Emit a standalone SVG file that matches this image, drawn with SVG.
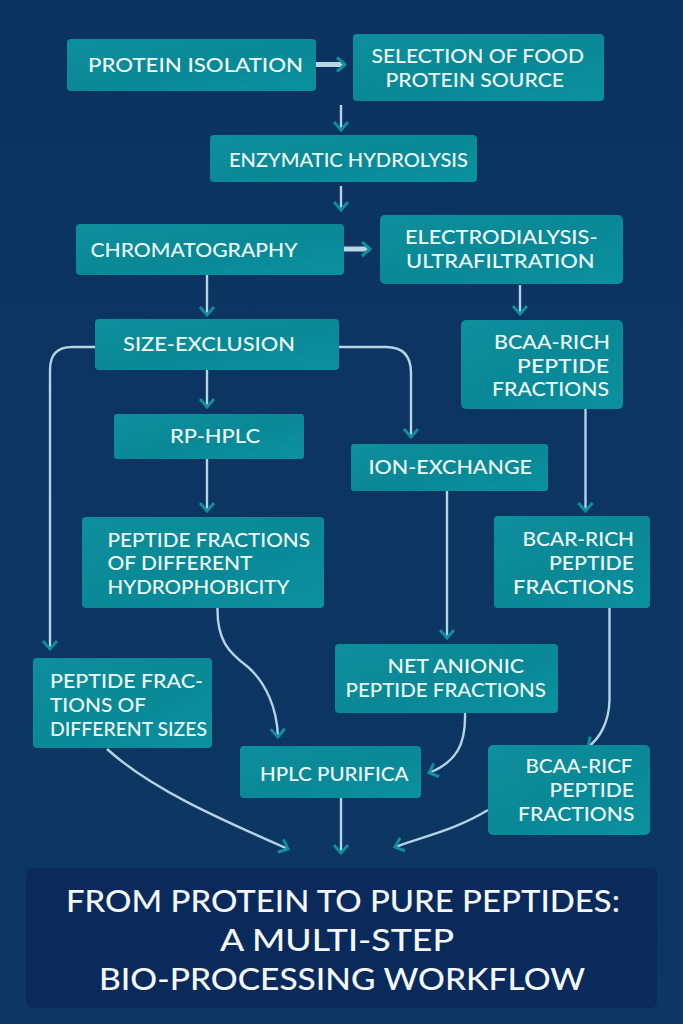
<svg xmlns="http://www.w3.org/2000/svg" width="683" height="1024" viewBox="0 0 683 1024">
<style>
text{font-family:"Lato","Open Sans","Liberation Sans",sans-serif;fill:#eefafa;font-size:19.500px;font-weight:500}
.t{font-size:31px;fill:#f4f8fb}
.c{fill:none;stroke:#b4d3e4;stroke-width:2.400;marker-end:url(#a)}
.k{stroke-width:5;stroke:#b9d6e6}
.n{fill:url(#g)}
</style>
<defs>
<linearGradient id="bg" x1="0" y1="0" x2="0" y2="1"><stop offset="0" stop-color="#0b3360"/><stop offset="1" stop-color="#0d3763"/></linearGradient>
<linearGradient id="g" x1="0" y1="0" x2="1" y2="1"><stop offset="0" stop-color="#0e8f9c"/><stop offset=".5" stop-color="#0a8896"/><stop offset="1" stop-color="#0a919f"/></linearGradient>
<marker id="a" markerUnits="userSpaceOnUse" markerWidth="14" markerHeight="18" viewBox="0 0 14 18" refX="11" refY="9" orient="auto"><path d="M3,2 L11,9 L3,16" fill="none" stroke="#0f8f9e" stroke-width="3"/></marker>
</defs>
<rect width="683" height="1024" fill="url(#bg)"/>
<g id="connectors">
<path class="c k" d="M316,64.500H345"/>
<path class="c" d="M341,105V130"/>
<path class="c" d="M341,186V210"/>
<path class="c k" d="M344,249H370"/>
<path class="c" d="M207,275V315"/>
<path class="c" d="M520,285V314"/>
<path class="c" d="M95,347H72Q50,347 50,370V649"/>
<path class="c" d="M339,347H386Q411,347 411,373V437"/>
<path class="c" d="M207,370V407"/>
<path class="c" d="M207,459V511"/>
<path class="c" d="M585.500,409V511"/>
<path class="c" d="M447,491V638"/>
<path class="c" d="M217.500,608C217,640 228,652 248,667C266,683 277,708 278,737"/>
<path class="c" d="M465,713C466,745 456,762 429,773"/>
<path class="c" d="M609.500,608V700C609,722 600,738 588,747"/>
<path class="c" d="M107,749C150,788 215,817 288,849"/>
<path class="c" d="M341,798V853"/>
<path class="c" d="M488,810C455,830 425,836 395,847"/>
</g>
<g id="protein-isolation"><rect class="n" x="67" y="39" width="249" height="52" rx="4"/><text x="88" y="72" textLength="215" lengthAdjust="spacingAndGlyphs">PROTEIN ISOLATION</text></g>
<g id="selection"><rect class="n" x="353" y="34" width="251" height="67" rx="4"/><text x="371.500" y="63" textLength="212.500" lengthAdjust="spacingAndGlyphs">SELECTION OF FOOD</text><text x="385.500" y="87" textLength="178.500" lengthAdjust="spacingAndGlyphs">PROTEIN SOURCE</text></g>
<g id="enzymatic"><rect class="n" x="210" y="135" width="267" height="47" rx="4"/><text x="229" y="167" textLength="239" lengthAdjust="spacingAndGlyphs">ENZYMATIC HYDROLYSIS</text></g>
<g id="chromatography"><rect class="n" x="76" y="224" width="268" height="51" rx="4"/><text x="90.500" y="257" textLength="207" lengthAdjust="spacingAndGlyphs">CHROMATOGRAPHY</text></g>
<g id="electrodialysis"><rect class="n" x="380" y="215" width="243" height="69" rx="5"/><text x="405" y="244" textLength="192.500" lengthAdjust="spacingAndGlyphs">ELECTRODIALYSIS-</text><text x="406" y="268" textLength="188.500" lengthAdjust="spacingAndGlyphs">ULTRAFILTRATION</text></g>
<g id="size-exclusion"><rect class="n" x="95" y="319" width="244" height="51" rx="4"/><text x="123" y="351" textLength="172" lengthAdjust="spacingAndGlyphs">SIZE-EXCLUSION</text></g>
<g id="bcaa-1"><rect class="n" x="461" y="320" width="162" height="89" rx="5"/><text x="494" y="349" textLength="116" lengthAdjust="spacingAndGlyphs">BCAA-RICH</text><text x="517" y="372.500" textLength="92" lengthAdjust="spacingAndGlyphs">PEPTIDE</text><text x="492" y="396" textLength="117" lengthAdjust="spacingAndGlyphs">FRACTIONS</text></g>
<g id="rp-hplc"><rect class="n" x="114" y="414" width="190" height="45" rx="3"/><text x="170" y="443" textLength="90" lengthAdjust="spacingAndGlyphs">RP-HPLC</text></g>
<g id="ion-exchange"><rect class="n" x="351" y="444" width="197" height="47" rx="3"/><text x="368.500" y="474" textLength="163.500" lengthAdjust="spacingAndGlyphs">ION-EXCHANGE</text></g>
<g id="hydrophobicity"><rect class="n" x="82" y="517" width="242" height="91" rx="4"/><text x="107.500" y="546.500" textLength="202.500" lengthAdjust="spacingAndGlyphs">PEPTIDE FRACTIONS</text><text x="107.500" y="570" textLength="145" lengthAdjust="spacingAndGlyphs">OF DIFFERENT</text><text x="107.500" y="593.500" textLength="182" lengthAdjust="spacingAndGlyphs">HYDROPHOBICITY</text></g>
<g id="bcar"><rect class="n" x="494" y="516" width="156" height="92" rx="4"/><text x="522.500" y="546" textLength="111.500" lengthAdjust="spacingAndGlyphs">BCAR-RICH</text><text x="549" y="570" textLength="85" lengthAdjust="spacingAndGlyphs">PEPTIDE</text><text x="513" y="594" textLength="121" lengthAdjust="spacingAndGlyphs">FRACTIONS</text></g>
<g id="sizes"><rect class="n" x="33" y="658" width="179" height="90" rx="4"/><text x="50" y="688" textLength="153" lengthAdjust="spacingAndGlyphs">PEPTIDE FRAC-</text><text x="50" y="712" textLength="96" lengthAdjust="spacingAndGlyphs">TIONS OF</text><text x="50" y="736" textLength="157" lengthAdjust="spacingAndGlyphs">DIFFERENT SIZES</text></g>
<g id="net-anionic"><rect class="n" x="335" y="644" width="223" height="69" rx="4"/><text x="387.500" y="673" textLength="136.500" lengthAdjust="spacingAndGlyphs">NET ANIONIC</text><text x="345.500" y="697" textLength="200.500" lengthAdjust="spacingAndGlyphs">PEPTIDE FRACTIONS</text></g>
<g id="hplc"><rect class="n" x="240" y="746" width="181" height="52" rx="4"/><text x="260" y="781" textLength="148.500" lengthAdjust="spacingAndGlyphs">HPLC PURIFICA</text></g>
<g id="bcaa-2"><rect class="n" x="488" y="745" width="162" height="90" rx="5"/><text x="525.500" y="773" textLength="107" lengthAdjust="spacingAndGlyphs">BCAA-RICF</text><text x="549.500" y="797" textLength="84.500" lengthAdjust="spacingAndGlyphs">PEPTIDE</text><text x="518" y="821" textLength="116.500" lengthAdjust="spacingAndGlyphs">FRACTIONS</text></g>
<g id="title"><rect x="26" y="868" width="631" height="140" rx="6" fill="#0a2a5c"/><text class="t" x="66" y="912" textLength="554" lengthAdjust="spacingAndGlyphs">FROM PROTEIN TO PURE PEPTIDES:</text><text class="t" x="220" y="951" textLength="234" lengthAdjust="spacingAndGlyphs">A MULTI-STEP</text><text class="t" x="99" y="990" textLength="486" lengthAdjust="spacingAndGlyphs">BIO-PROCESSING WORKFLOW</text></g>
</svg>
